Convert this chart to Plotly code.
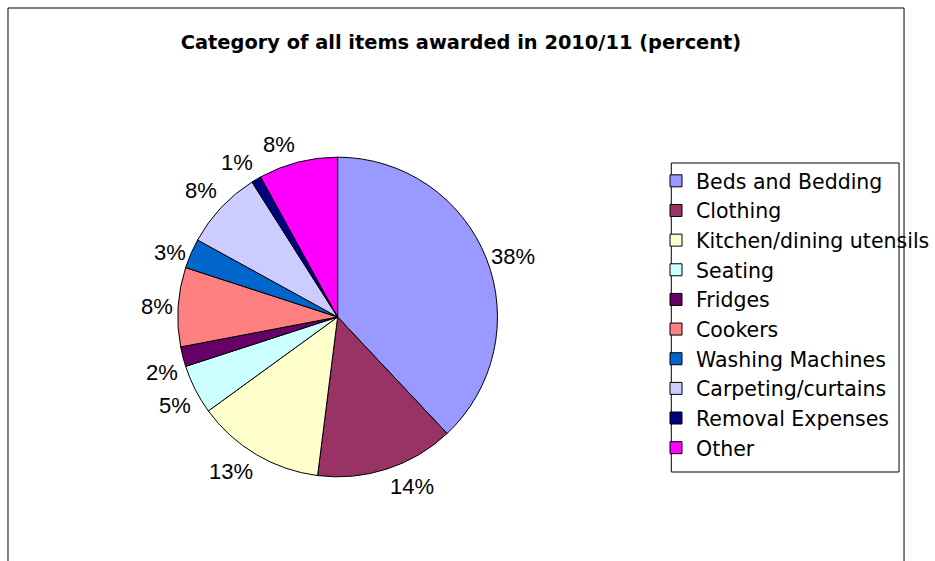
import math
import plotly.graph_objects as go

categories = ["Beds and Bedding", "Clothing", "Kitchen/dining utensils", "Seating",
              "Fridges", "Cookers", "Washing Machines", "Carpeting/curtains",
              "Removal Expenses", "Other"]
values = [38, 14, 13, 5, 2, 8, 3, 8, 1, 8]
colors = ["#9999FF", "#993366", "#FFFFCC", "#CCFFFF", "#660066",
          "#FF8080", "#0066CC", "#CCCCFF", "#000080", "#FF00FF"]
title = "Category of all items awarded in 2010/11 (percent)"

W, H = 935, 561
cx, cy, r = 338, 317, 160
label_font = dict(family="Liberation Sans, Arial", size=22, color="black")

fig = go.Figure(go.Pie(
    labels=categories, values=values, sort=False, direction="clockwise", rotation=0,
    marker=dict(colors=colors, line=dict(color="black", width=1)),
    textinfo="none",
    domain=dict(x=[(cx - r) / W, (cx + r) / W], y=[(H - cy - r) / H, (H - cy + r) / H]),
    hoverinfo="label+percent", showlegend=True,
))

# percentage labels placed outside each slice, derived from the values
total = sum(values)
annotations = []
cum = 0
for v in values:
    mid = (cum + v / 2) / total * 2 * math.pi
    cum += v
    sx, sy = math.sin(mid), -math.cos(mid)  # screen direction (y down)
    R = r + 3
    px, py = cx + R * sx, cy + R * sy
    xa = "left" if sx > 0.2 else ("right" if sx < -0.2 else "center")
    ya = "top" if sy > 0.2 else ("bottom" if sy < -0.5 else "middle")
    annotations.append(dict(x=px / W, y=1 - py / H, xref="paper", yref="paper",
                            text=f"{v}%", showarrow=False, xanchor=xa, yanchor=ya,
                            font=label_font))

fig.update_layout(
    width=W, height=H, margin=dict(l=0, r=0, t=0, b=0),
    paper_bgcolor="white", plot_bgcolor="white",
    title=dict(text="<b>" + title + "</b>", x=461 / W, xanchor="center", y=1 - 42 / H, yanchor="middle",
               font=dict(family="DejaVu Sans", size=19.4, color="black")),
    legend=dict(x=657 / W, y=1 - 161 / H, xanchor="left", yanchor="top",
                font=dict(family="DejaVu Sans", size=20.5, color="black"),
                bgcolor="rgba(0,0,0,0)", borderwidth=0, itemwidth=30),
    annotations=annotations,
    shapes=[
        dict(type="line", xref="paper", yref="paper", x0=8 / W, x1=8 / W, y0=0, y1=1 - 8 / H,
             line=dict(color="black", width=1)),
        dict(type="line", xref="paper", yref="paper", x0=8 / W, x1=905 / W, y0=1 - 8 / H, y1=1 - 8 / H,
             line=dict(color="black", width=1)),
        dict(type="line", xref="paper", yref="paper", x0=905 / W, x1=905 / W, y0=0, y1=1 - 8 / H,
             line=dict(color="black", width=1)),
        dict(type="rect", xref="paper", yref="paper", x0=672 / W, x1=900 / W, y0=1 - 472 / H, y1=1 - 163 / H,
             line=dict(color="black", width=1)),
    ],
)

fig.write_html("out.html")
